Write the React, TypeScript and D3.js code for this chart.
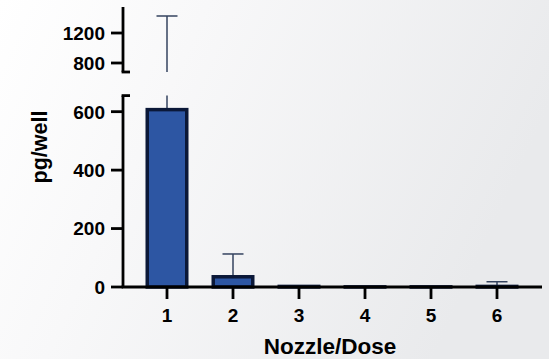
import React from "react";
import * as d3 from "d3";

// Nozzle/Dose groups with mean and mean+SD values (pg/well)
const categories = ["1", "2", "3", "4", "5", "6"];
const means = [607, 35, 2, 0.5, 0.5, 2];
const upperErrors = [1427, 113, 2, 0.5, 0.5, 18];
const lowerTicks = [0, 200, 400, 600];
const upperTicks = [800, 1200];

const W = 549;
const H = 359;
const axisX = 123;
const font = "'Liberation Sans', Arial, sans-serif";

export default function App() {
  const x = d3.scalePoint<string>().domain(categories).range([167, 497]);
  // broken y-axis: lower and upper segments
  const yLow = d3.scaleLinear().domain([0, 655]).range([287, 95.6]);
  const yHigh = d3.scaleLinear().domain([680, 1547]).range([72, 7]);
  const lowMax = 655;
  const barW = 39.5;
  const capHalf = 10.5;
  const barFill = "#2d56a3";
  const barStroke = "#0b1838";
  const errColor = "#34435f";

  return (
    <div style={{ position: "fixed", left: 0, top: 0 }}>
      <svg width={W} height={H} style={{ display: "block" }}>
        <defs>
          <linearGradient id="bg" x1="0" y1="0" x2="1" y2="0.3">
            <stop offset="0" stopColor="#ffffff" />
            <stop offset="0.35" stopColor="#f8f8f9" />
            <stop offset="1" stopColor="#e9eaec" />
          </linearGradient>
        </defs>
        <rect width={W} height={H} fill="url(#bg)" />

        {/* error bars */}
        {categories.map((c, i) => {
          const cx = x(c)!;
          const top = upperErrors[i];
          if (top <= means[i]) return null;
          if (top > lowMax) {
            return (
              <g key={c} stroke={errColor} strokeWidth={1.5}>
                <line x1={cx} x2={cx} y1={yLow(means[i])} y2={yLow(lowMax)} />
                <line x1={cx} x2={cx} y1={yHigh(680)} y2={yHigh(top)} />
                <line x1={cx - capHalf} x2={cx + capHalf} y1={yHigh(top)} y2={yHigh(top)} />
              </g>
            );
          }
          return (
            <g key={c} stroke={errColor} strokeWidth={1.5}>
              <line x1={cx} x2={cx} y1={yLow(means[i])} y2={yLow(top)} />
              <line x1={cx - capHalf} x2={cx + capHalf} y1={yLow(top)} y2={yLow(top)} />
            </g>
          );
        })}

        {/* bars */}
        {categories.map((c, i) => {
          const cx = x(c)!;
          const y0 = yLow(0);
          const y1 = yLow(means[i]);
          return (
            <rect
              key={c}
              x={cx - barW / 2}
              y={y1}
              width={barW}
              height={Math.max(0, y0 - y1)}
              fill={barFill}
              stroke={barStroke}
              strokeWidth={3.5}
            />
          );
        })}

        {/* y axis - lower segment */}
        <g stroke="#000" strokeWidth={2.8} fill="none">
          <line x1={axisX} x2={axisX} y1={yLow(0)} y2={yLow(lowMax)} />
          <line x1={axisX - 1.4} x2={axisX + 7} y1={yLow(lowMax)} y2={yLow(lowMax)} />
          {lowerTicks.map((t) => (
            <line key={t} x1={axisX - 12} x2={axisX} y1={yLow(t)} y2={yLow(t)} />
          ))}
          {/* upper segment */}
          <line x1={axisX} x2={axisX} y1={yHigh(680)} y2={yHigh(1547)} />
          <line x1={axisX - 1.4} x2={axisX + 7} y1={yHigh(680)} y2={yHigh(680)} />
          {upperTicks.map((t) => (
            <line key={t} x1={axisX - 12} x2={axisX} y1={yHigh(t)} y2={yHigh(t)} />
          ))}
        </g>
        <g fontFamily={font} fontWeight="bold" fontSize={19} fill="#000" textAnchor="end">
          {lowerTicks.map((t) => (
            <text key={t} x={axisX - 18} y={yLow(t)} dy="0.36em">
              {t}
            </text>
          ))}
          {upperTicks.map((t) => (
            <text key={t} x={axisX - 18} y={yHigh(t)} dy="0.36em">
              {t}
            </text>
          ))}
        </g>

        {/* x axis */}
        <g stroke="#000" strokeWidth={2.8}>
          <line x1={axisX - 1.4} x2={542} y1={yLow(0)} y2={yLow(0)} />
          {categories.map((c) => (
            <line key={c} x1={x(c)!} x2={x(c)!} y1={yLow(0)} y2={yLow(0) + 12} />
          ))}
        </g>
        <g fontFamily={font} fontWeight="bold" fontSize={19} fill="#000" textAnchor="middle">
          {categories.map((c) => (
            <text key={c} x={x(c)!} y={322}>
              {c}
            </text>
          ))}
        </g>

        <text
          x={330}
          y={354}
          fontFamily={font}
          fontWeight="bold"
          fontSize={22.5}
          textAnchor="middle"
          fill="#000"
        >
          Nozzle/Dose
        </text>
        <text
          transform="translate(47,147) rotate(-90)"
          fontFamily={font}
          fontWeight="bold"
          fontSize={21.5}
          textAnchor="middle"
          fill="#000"
        >
          pg/well
        </text>
      </svg>
    </div>
  );
}
